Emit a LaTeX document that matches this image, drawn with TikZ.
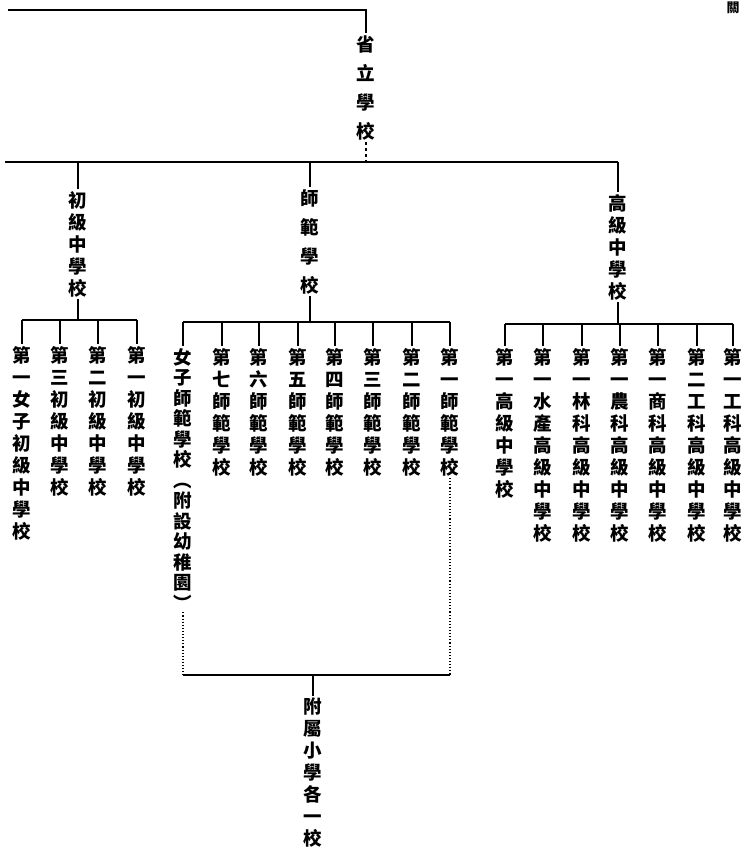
\documentclass[tikz,border=0pt]{standalone}
\usepackage{fontspec}
\usetikzlibrary{positioning}
\newfontfamily\cjkfont{Noto Sans CJK TC}
% one character per line
\long\def\vgobble#1{}
\long\def\vkeep#1{#1}
\def\vchars#1{\expandafter\vcharsaux#1\relax}
\def\vcharsaux#1#2\relax{#1\ifx\relax#2\relax\expandafter\vgobble\else\expandafter\vkeep\fi{\\\vcharsaux#2\relax}}

\begin{document}
\begin{tikzpicture}[x=1pt,y=-1pt,
    vlab/.style={font=\cjkfont\bfseries\fontsize{18.5}{22}\selectfont,align=center,
        inner xsep=0pt,inner ysep=2pt,anchor=north},
    wlab/.style={vlab,font=\cjkfont\bfseries\fontsize{18.5}{29}\selectfont},
    nlab/.style={vlab,font=\cjkfont\bfseries\fontsize{18.5}{20.5}\selectfont},
    link/.style={line width=1.1pt},
    dots/.style={line width=1.1pt,dotted}]
    \useasboundingbox (0,0) rectangle (744,852);

    % top
    \coordinate (topL) at (8,10);
    \coordinate (topR) at (366,10);
    \node[vlab,font=\cjkfont\bfseries\fontsize{13}{15}\selectfont] (edge) at (733,0) {關};
    \node[wlab] (prov) at (366,33) {\vchars{省立學校}};
    \draw[link] (topL) -- (topR) -- (prov.north);

    % second level
    \coordinate (busL) at (5,162);
    \coordinate (busR) at (618,162);
    \node[vlab] (junior) at (78,189) {\vchars{初級中學校}};
    \node[wlab] (normal) at (310,187) {\vchars{師範學校}};
    \node[vlab] (senior) at (618,192) {\vchars{高級中學校}};
    \draw[link] (busL) -- (busR);
    \draw[link,dashed] (prov.south) -- (prov.south |- busL);
    \foreach \n in {junior,normal,senior}
        \draw[link] (\n.north |- busL) -- (\n.north);

    % junior schools
    \coordinate (jrbus) at (78,320);
    \foreach \x/\t [count=\i] in {22/第一女子初級中學校,60/第三初級中學校,
        98/第二初級中學校,137/第一初級中學校}
        \node[vlab] (jr\i) at (\x,344) {\vchars{\t}};
    \draw[link] (junior.south) -- (jrbus);
    \draw[link] (jr1.north |- jrbus) -- (jr4.north |- jrbus);
    \foreach \i in {1,...,4}
        \draw[link] (jr\i.north |- jrbus) -- (jr\i.north);

    % normal schools
    \coordinate (nmbus) at (310,322);
    \node[nlab] (nm1) at (183,346) {\vchars{女子師範學校︵附設幼稚園︶}};
    \foreach \x/\t [count=\i from 2] in {222/第七師範學校,259/第六師範學校,
        298/第五師範學校,335/第四師範學校,373/第三師範學校,
        412/第二師範學校,450/第一師範學校}
        \node[vlab] (nm\i) at (\x,346) {\vchars{\t}};
    \draw[link] (normal.south) -- (nmbus);
    \draw[link] (nm1.north |- nmbus) -- (nm8.north |- nmbus);
    \foreach \i in {1,...,8}
        \draw[link] (nm\i.north |- nmbus) -- (nm\i.north);

    % annexed primary schools
    \coordinate (nmfoot) at (313,675);
    \node[vlab] (annex) at (313,696) {\vchars{附屬小學各一校}};
    \draw[dots] (nm1.south) -- (nm1.south |- nmfoot);
    \draw[dots] (nm8.south) -- (nm8.south |- nmfoot);
    \draw[link] (nm1.south |- nmfoot) -- (nm8.south |- nmfoot);
    \draw[link] (nmfoot) -- (annex.north);

    % senior schools
    \coordinate (srbus) at (618,324);
    \foreach \x/\t [count=\i] in {505/第一高級中學校,543/第一水產高級中學校,
        582/第一林科高級中學校,620/第一農科高級中學校,658/第一商科高級中學校,
        697/第二工科高級中學校,733/第一工科高級中學校}
        \node[vlab] (sr\i) at (\x,346) {\vchars{\t}};
    \draw[link] (senior.south) -- (srbus);
    \draw[link] (sr1.north |- srbus) -- (sr7.north |- srbus);
    \foreach \i in {1,...,7}
        \draw[link] (sr\i.north |- srbus) -- (sr\i.north);
\end{tikzpicture}
\end{document}
